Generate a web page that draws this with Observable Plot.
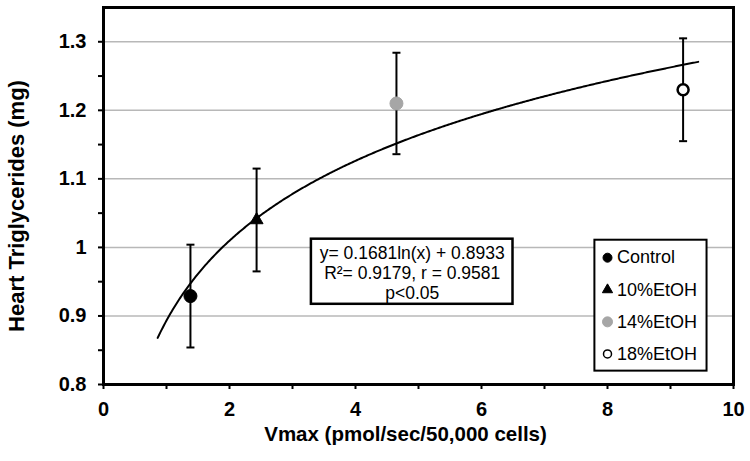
<!DOCTYPE html>
<html><head><meta charset="utf-8">
<script src="https://cdn.jsdelivr.net/npm/d3@7"></script>
<script src="https://cdn.jsdelivr.net/npm/@observablehq/plot@0.6"></script>
<style>
body{margin:0;background:#fff}
svg{font-family:"Liberation Sans",Arial,sans-serif}
</style>
</head><body><div id="chart"></div>
<script>
// ---- data ----
const groups = ["Control", "10%EtOH", "14%EtOH", "18%EtOH"];
const vmax = [1.38, 2.43, 4.65, 9.20];
const triglycerides = [0.929, 1.040, 1.210, 1.230];
const errors = [0.075, 0.075, 0.074, 0.075];
const yTicks = [0.8, 0.9, 1, 1.1, 1.2, 1.3];
const yMinorTicks = [0.85, 0.95, 1.05, 1.15, 1.25];
const yGrid = [0.9, 1, 1.1, 1.2, 1.3];
const xTicks = [0, 2, 4, 6, 8, 10];
const xMinorTicks = [1, 3, 5, 7, 9];
const fitA = 0.1681, fitB = 0.8933;      // printed regression: y = a ln(x) + b
const fitRange = [0.86, 9.44];
const annotationLines = ["y= 0.1681ln(x) + 0.8933", "R\u00b2= 0.9179, r = 0.9581", "p<0.05"];
const xTitle = "Vmax (pmol/sec/50,000 cells)";
const yTitle = "Heart Triglycerides (mg)";

// ---- styles ----
const markerStyle = [
  {symbol: "circle", fill: "black", stroke: "black", r: 6.5, lr: 4.5, sw: 1},
  {symbol: "triangle", fill: "black", stroke: "black", r: 4.8, lr: 3.8, sw: 1},
  {symbol: "circle", fill: "#a6a6a6", stroke: "#a6a6a6", r: 6.5, lr: 5, sw: 1},
  {symbol: "circle", fill: "white", stroke: "black", r: 5.5, lr: 4, sw: 2.5}
];

const points = groups.map((g, i) => ({
  group: g, x: vmax[i], y: triglycerides[i],
  lo: triglycerides[i] - errors[i], hi: triglycerides[i] + errors[i], i
}));
const fit = d3.range(fitRange[0], fitRange[1] + 1e-9, 0.02).map(x => ({x, y: fitA * Math.log(x) + fitB}));

const capSymbol = {draw(ctx, size) { const w = Math.sqrt(size / Math.PI); ctx.moveTo(-w, 0); ctx.lineTo(w, 0); }};

// layout (data units)
const anno = {x1: 3.30, x2: 6.50, y1: 0.917, y2: 1.012, cx: 4.9, cy: 0.9637};
const leg = {x1: 7.80, x2: 9.58, y1: 0.8195, y2: 1.0105, mx: 8.0, tx: 8.15, y0: 0.985, step: 0.0468};
const legendItems = groups.map((g, i) => ({group: g, i, y: leg.y0 - i * leg.step}));

const tickFont = {fontSize: 20, fontWeight: "bold"};

const chart = Plot.plot({
  width: 750, height: 461,
  marginLeft: 103, marginRight: 17, marginTop: 7, marginBottom: 77,
  x: {domain: [0, 10]},
  y: {domain: [0.8, 1.35]},
  marks: [
    Plot.ruleY(yGrid, {stroke: "#b8b8b8", strokeWidth: 1.5}),
    Plot.line(fit, {x: "x", y: "y", stroke: "black", strokeWidth: 2}),
    Plot.ruleX(points, {x: "x", y1: "lo", y2: "hi", stroke: "black", strokeWidth: 2}),
    Plot.dot(points, {x: "x", y: "lo", symbol: capSymbol, r: 4, stroke: "black", strokeWidth: 2, fill: "none"}),
    Plot.dot(points, {x: "x", y: "hi", symbol: capSymbol, r: 4, stroke: "black", strokeWidth: 2, fill: "none"}),
    ...points.map(p => Plot.dot([p], {x: "x", y: "y", symbol: markerStyle[p.i].symbol, r: markerStyle[p.i].r,
      fill: markerStyle[p.i].fill, stroke: markerStyle[p.i].stroke, strokeWidth: markerStyle[p.i].sw})),
    // annotation box
    Plot.rect([anno], {x1: "x1", x2: "x2", y1: "y1", y2: "y2", fill: "white", stroke: "black", strokeWidth: 2.5}),
    Plot.text([annotationLines.join("\n")], {x: anno.cx, y: anno.cy, fontSize: 17.5, lineHeight: 1.14, fill: "black"}),
    // legend
    Plot.rect([leg], {x1: "x1", x2: "x2", y1: "y1", y2: "y2", fill: "white", stroke: "black", strokeWidth: 2}),
    ...legendItems.map(d => Plot.dot([d], {x: leg.mx, y: "y", symbol: markerStyle[d.i].symbol, r: markerStyle[d.i].lr,
      fill: markerStyle[d.i].fill, stroke: markerStyle[d.i].stroke, strokeWidth: Math.min(markerStyle[d.i].sw, 1.5)})),
    Plot.text(legendItems, {x: leg.tx, y: "y", text: "group", textAnchor: "start", fontSize: 18, fill: "black"}),
    // axes
    Plot.axisY(yTicks, {tickSize: 5, tickPadding: 12, tickFormat: d => String(d), label: null, strokeWidth: 2, ...tickFont}),
    Plot.axisY(yMinorTicks, {tickSize: 5, tickFormat: () => "", label: null, strokeWidth: 2}),
    Plot.axisX(xTicks, {tickSize: 5, tickPadding: 12, tickFormat: d => String(d), label: null, strokeWidth: 2, ...tickFont}),
    Plot.axisX(xMinorTicks, {tickSize: 5, tickFormat: () => "", label: null, strokeWidth: 2}),
    Plot.frame({stroke: "black", strokeWidth: 3}),
    Plot.text([xTitle], {frameAnchor: "bottom", textAnchor: "middle", dx: -13, dy: 56, fontSize: 20.5, fontWeight: "bold", fill: "black"}),
    Plot.text([yTitle], {frameAnchor: "left", textAnchor: "middle", lineAnchor: "middle", rotate: -90, dx: -87, dy: 10, fontSize: 22, fontWeight: "bold", fill: "black"})
  ]
});
document.getElementById("chart").appendChild(chart);
</script>
</body></html>
